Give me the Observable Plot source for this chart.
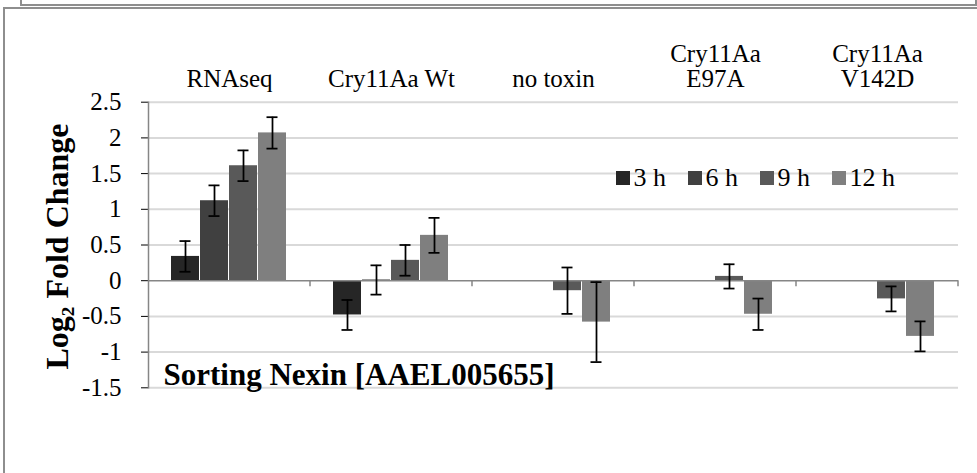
<!DOCTYPE html>
<html>
<head>
<meta charset="utf-8">
<script src="https://cdn.jsdelivr.net/npm/d3@7"></script>
<script src="https://cdn.jsdelivr.net/npm/@observablehq/plot@0.6"></script>
<style>
  html, body { margin: 0; padding: 0; background: #fff; }
  #wrap { position: relative; width: 977px; height: 473px; overflow: hidden;
          font-family: "Liberation Serif", "Times New Roman", serif; }
  #chart svg { position: absolute; left: 0; top: 0; }
  #chart svg, #chart svg text { font-family: "Liberation Serif", "Times New Roman", serif !important; }
  g[aria-label="fx-axis tick label"], g[aria-label="fx-axis tick label"] text { font-size: 25px !important; }
  g[aria-label="y-axis tick label"], g[aria-label="y-axis tick label"] text { font-size: 25px !important; }
  .box-top { position: absolute; left: 20px; top: -3px; width: 953px; height: 7px;
             border: 2px solid #8e8e8e; border-top: none; }
  .box-main { position: absolute; left: 3px; top: 7px; width: 990px; height: 490px;
              border: 2px solid #8e8e8e; }
  #legend { position: absolute; left: 616px; top: 163px; display: flex; align-items: center;
            font-size: 26px; line-height: 30px; color: #000; white-space: nowrap;
            font-family: "Liberation Serif", "Times New Roman", serif; }
  #legend .item { display: flex; align-items: center; margin-right: 22px; }
  #legend .sw { display: inline-block; width: 13.5px; height: 13.5px; margin-right: 4px; }
  g[aria-label="y-axis tick"] { stroke: #868686; }
</style>
</head>
<body>
<div id="wrap">
  <div class="box-top"></div>
  <div class="box-main"></div>
  <div id="chart"></div>
  <div id="legend"></div>
</div>
<script>
// ---- data ----
const categories = ["RNAseq", "Cry11Aa Wt", "no toxin", "Cry11Aa\nE97A", "Cry11Aa\nV142D"];
const times = ["3 h", "6 h", "9 h", "12 h"];
const values3h  = [0.34, -0.48, null, null, null];
const values6h  = [1.12, 0.01, null, null, null];
const values9h  = [1.61, 0.285, -0.14, 0.06, -0.255];
const values12h = [2.07, 0.635, -0.58, -0.47, -0.78];
const err3h  = [0.215, 0.21, null, null, null];
const err6h  = [0.215, 0.205, null, null, null];
const err9h  = [0.215, 0.215, 0.325, 0.17, 0.175];
const err12h = [0.22, 0.245, 0.56, 0.22, 0.21];
const colors = ["#262626", "#404040", "#595959", "#7f7f7f"];
const yTicks = [-1.5, -1, -0.5, 0, 0.5, 1, 1.5, 2, 2.5];
const yTitle = "Log\u2082 Fold Change";
const geneLabel = "Sorting Nexin [AAEL005655]";

const seriesValues = [values3h, values6h, values9h, values12h];
const seriesErrors = [err3h, err6h, err9h, err12h];
const data = [];
times.forEach((t, s) => {
  categories.forEach((c, i) => {
    const v = seriesValues[s][i];
    if (v != null) data.push({category: c, time: t, value: v, err: seriesErrors[s][i]});
  });
});

const font = "'Liberation Serif', 'Times New Roman', serif";

const plot = Plot.plot({
  width: 977,
  height: 473,
  marginLeft: 148,
  marginRight: 19,
  marginTop: 101.7,
  marginBottom: 85.7,
  style: {fontFamily: font, fontSize: "25px", color: "#000", background: "transparent", overflow: "visible"},
  fx: {domain: categories, padding: 0, axis: "top", label: null, tickSize: 0, tickPadding: 15.5},
  x: {domain: times, axis: null, paddingInner: 0.025, paddingOuter: 0.777},
  y: {domain: [-1.5, 2.5], ticks: yTicks, tickSize: 7, tickPadding: 20, tickFormat: d => String(d), label: null},
  color: {domain: times, range: colors},
  marks: [
    Plot.ruleY(yTicks.filter(t => t !== 0), {stroke: "#d9d9d9", strokeWidth: 2}),
    Plot.frame({anchor: "left", facetAnchor: "left", stroke: "#868686", strokeWidth: 1.5}),
    Plot.barY(data, {fx: "category", x: "time", y: "value", fill: "time"}),
    Plot.ruleY([0], {stroke: "#868686", strokeWidth: 1.5}),
    Plot.ruleX(data, {fx: "category", x: "time", y1: d => d.value - d.err, y2: d => d.value + d.err,
                      stroke: "#000", strokeWidth: 1.75}),
    Plot.tickY(data, {fx: "category", x: "time", y: d => d.value + d.err, stroke: "#000", strokeWidth: 1.75,
                      insetLeft: 8.5, insetRight: 8.5}),
    Plot.tickY(data, {fx: "category", x: "time", y: d => d.value - d.err, stroke: "#000", strokeWidth: 1.75,
                      insetLeft: 8.5, insetRight: 8.5}),
    Plot.text([geneLabel], {fx: [categories[0]], frameAnchor: "bottom-left", textAnchor: "start",
                            lineAnchor: "bottom", dx: 15, dy: -3, fontWeight: "bold", fontSize: 31, fill: "#000"}),
    Plot.text([yTitle], {fx: [categories[0]], frameAnchor: "left", rotate: -90, textAnchor: "middle",
                         lineAnchor: "middle", dx: -91, dy: 1.5, fontWeight: "bold", fontSize: 32, fill: "#000"})
  ]
});
document.getElementById("chart").appendChild(plot);

// category boundary ticks on the zero line (positions from Plot's own scales)
const fxS = plot.scale("fx");
const yS = plot.scale("y");
const y0 = yS.apply(0);
const g = d3.select(plot).append("g").attr("stroke", "#868686").attr("stroke-width", 1.5);
categories.forEach(c => {
  const xb = fxS.apply(c) + fxS.bandwidth;
  g.append("line").attr("x1", xb).attr("x2", xb).attr("y1", y0).attr("y2", y0 + 6);
});

// legend, colours from Plot's colour scale
const colorS = plot.scale("color");
const legend = d3.select("#legend");
times.forEach(t => {
  const item = legend.append("span").attr("class", "item");
  item.append("span").attr("class", "sw").style("background", colorS.apply(t));
  item.append("span").text(t);
});
</script>
</body>
</html>
